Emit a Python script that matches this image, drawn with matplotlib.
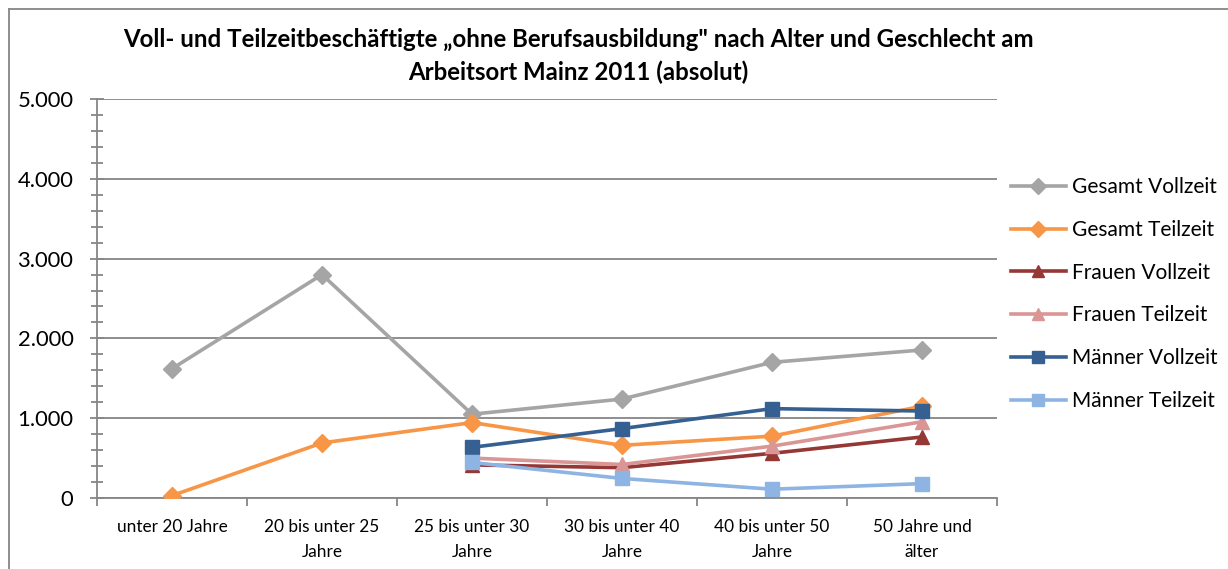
import matplotlib
matplotlib.use('Agg')
import matplotlib.pyplot as plt
import matplotlib.ticker as mticker
from matplotlib.lines import Line2D
import numpy as np

plt.rcParams['font.family'] = ['Lato', 'DejaVu Sans']

categories = ['unter 20 Jahre', '20 bis unter 25\nJahre', '25 bis unter 30\nJahre',
              '30 bis unter 40\nJahre', '40 bis unter 50\nJahre', '50 Jahre und\nälter']

gesamt_vz = [1620, 2800, 1050, 1240, 1700, 1855]
gesamt_tz = [30, 690, 945, 660, 775, 1150]
frauen_vz = [np.nan, np.nan, 415, 380, 560, 765]
frauen_tz = [np.nan, np.nan, 500, 420, 650, 955]
maenner_vz = [np.nan, np.nan, 635, 870, 1120, 1090]
maenner_tz = [np.nan, np.nan, 445, 245, 110, 180]

series = [
    ('Gesamt Vollzeit', gesamt_vz, '#A5A5A5', 'D'),
    ('Gesamt Teilzeit', gesamt_tz, '#F79646', 'D'),
    ('Frauen Vollzeit', frauen_vz, '#953735', '^'),
    ('Frauen Teilzeit', frauen_tz, '#D99694', '^'),
    ('Männer Vollzeit', maenner_vz, '#376092', 's'),
    ('Männer Teilzeit', maenner_tz, '#8EB4E3', 's'),
]

title = ('Voll- und Teilzeitbeschäftigte \u201eohne Berufsausbildung" nach Alter und Geschlecht am\n'
         'Arbeitsort Mainz 2011 (absolut)')

fig = plt.figure(figsize=(12.28, 5.69), dpi=100)
ax = fig.add_axes([97/1228, 1 - 498/569, 900/1228, 399/569])

x = np.arange(len(categories))
handles = []
for name, vals, col, mk in series:
    ms = 9 if mk == 'D' else 10
    h, = ax.plot(x, vals, color=col, lw=2.6, marker=mk, ms=ms, mec=col, mfc=col, label=name,
                 zorder=3)
    handles.append(h)

# axes / grid
ax.set_xlim(-0.5, len(categories) - 0.5)
ax.set_ylim(0, 5000)
ax.yaxis.set_major_locator(mticker.MultipleLocator(1000))
ax.yaxis.set_minor_locator(mticker.MultipleLocator(200))
ax.yaxis.set_major_formatter(mticker.FuncFormatter(lambda v, p: '{:,.0f}'.format(v).replace(',', '.')))
ax.grid(axis='y', which='major', color='#868686', lw=1.3)
ax.set_axisbelow(True)

for s in ['top', 'right']:
    ax.spines[s].set_visible(False)
for s in ['left', 'bottom']:
    ax.spines[s].set_color('#868686')
    ax.spines[s].set_linewidth(1.3)

ax.tick_params(axis='y', which='both', direction='inout', color='#868686', width=1.3,
               labelsize=15.8, pad=12)
ax.tick_params(axis='y', which='major', length=10)
ax.tick_params(axis='y', which='minor', length=8)

ax.set_xticks(x)
ax.set_xticklabels(categories, fontsize=12.4, linespacing=1.7)
ax.tick_params(axis='x', which='major', length=0, pad=15)
ax.set_xticks(np.arange(-0.5, len(categories)), minor=True)
ax.tick_params(axis='x', which='minor', length=6, color='#868686', width=1.3)

fig.text(578/1228, 1 - 56/569, title, ha='center', va='center', fontsize=17.3,
         fontweight='bold', linespacing=1.45)

leg = fig.legend(handles=handles, loc='upper left', bbox_to_anchor=(1003/1228, 1 - 169/569),
                 frameon=False, fontsize=15, handlelength=2.6, handletextpad=0.3,
                 labelspacing=1.09, borderaxespad=0, markerscale=0.9)

# chart border
fig.add_artist(Line2D([9/1228, 9/1228], [0, 1 - 9/569], color='#868686', lw=1.3))
fig.add_artist(Line2D([9/1228, 1], [1 - 9/569, 1 - 9/569], color='#868686', lw=1.3))

fig.savefig('out.png', dpi=100)
